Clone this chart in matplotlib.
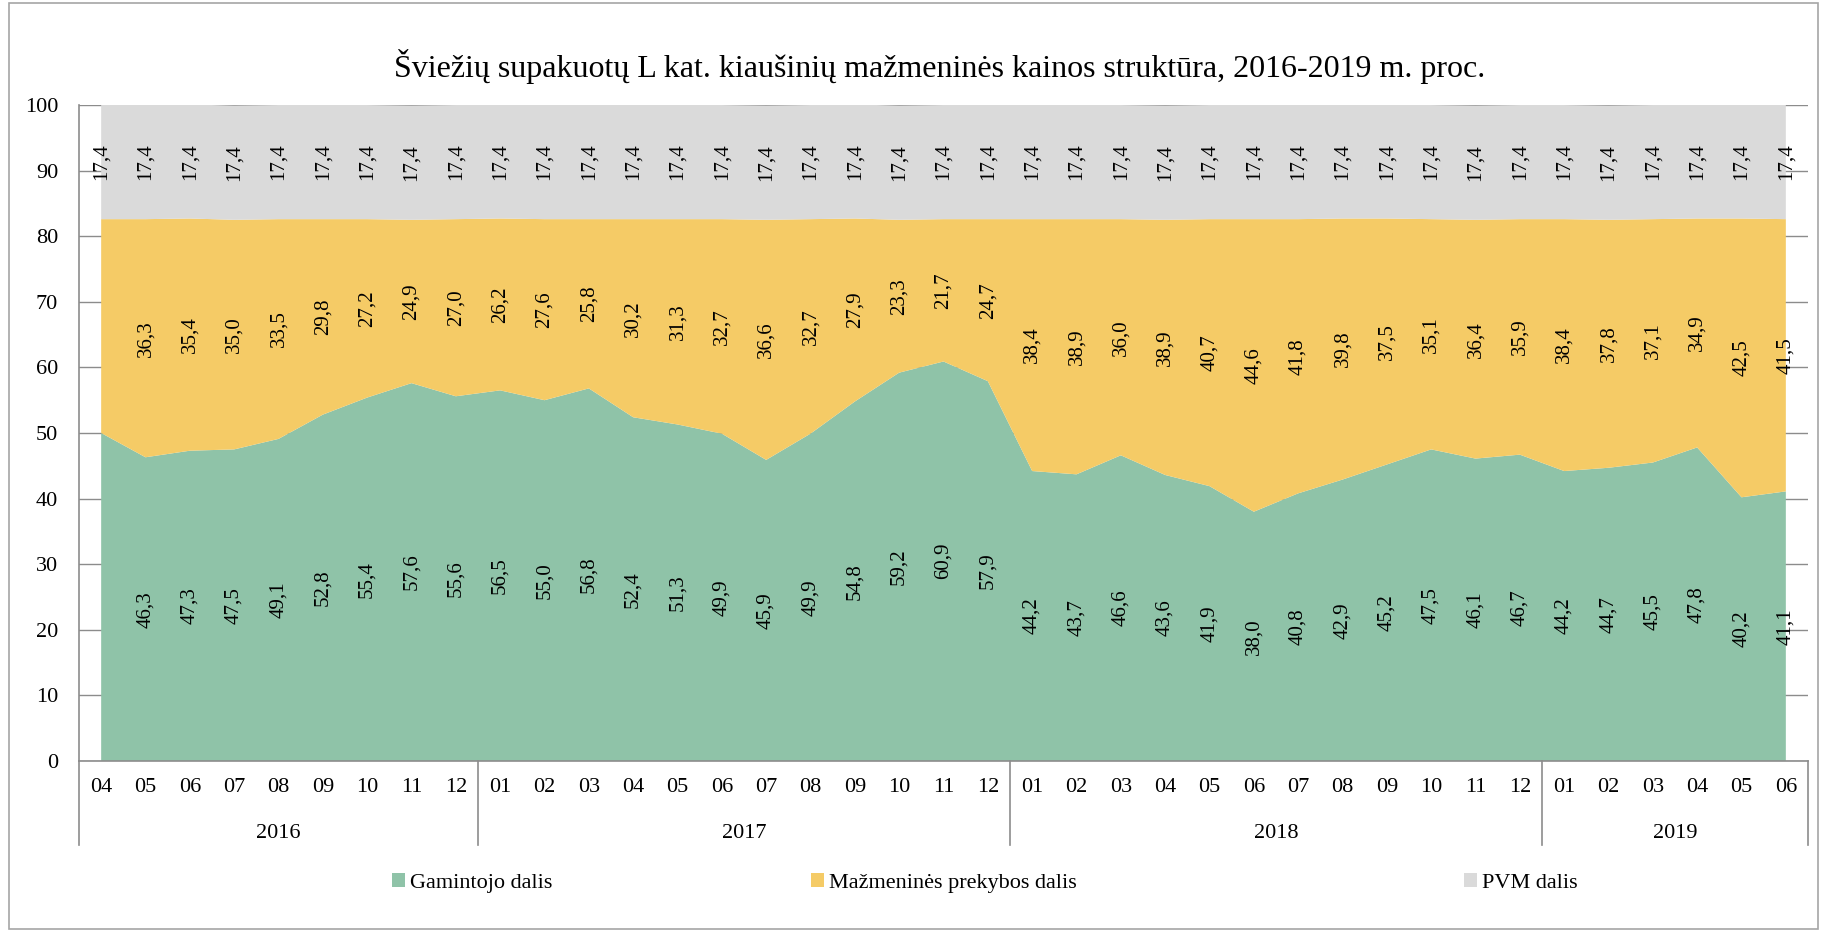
import numpy as np
import matplotlib
matplotlib.use("Agg")
import matplotlib.pyplot as plt
from matplotlib.patches import Rectangle
from matplotlib.transforms import blended_transform_factory

plt.rcParams["font.family"] = ["Liberation Serif", "DejaVu Serif"]

# 2016-04 .. 2019-06
months = ["04", "05", "06", "07", "08", "09", "10", "11", "12",
          "01", "02", "03", "04", "05", "06", "07", "08", "09", "10", "11", "12",
          "01", "02", "03", "04", "05", "06", "07", "08", "09", "10", "11", "12",
          "01", "02", "03", "04", "05", "06"]
years = ["2016", "2017", "2018", "2019"]
year_sizes = [9, 12, 12, 6]

producer = [50.0, 46.3, 47.3, 47.5, 49.1, 52.8, 55.4, 57.6, 55.6,
            56.5, 55.0, 56.8, 52.4, 51.3, 49.9, 45.9, 49.9, 54.8, 59.2, 60.9, 57.9,
            44.2, 43.7, 46.6, 43.6, 41.9, 38.0, 40.8, 42.9, 45.2, 47.5, 46.1, 46.7,
            44.2, 44.7, 45.5, 47.8, 40.2, 41.1]
retail = [32.6, 36.3, 35.4, 35.0, 33.5, 29.8, 27.2, 24.9, 27.0,
          26.2, 27.6, 25.8, 30.2, 31.3, 32.7, 36.6, 32.7, 27.9, 23.3, 21.7, 24.7,
          38.4, 38.9, 36.0, 38.9, 40.7, 44.6, 41.8, 39.8, 37.5, 35.1, 36.4, 35.9,
          38.4, 37.8, 37.1, 34.9, 42.5, 41.5]
vat = [17.4] * len(months)

series_names = ["Gamintojo dalis", "Mažmeninės prekybos dalis", "PVM dalis"]
colors = ["#8FC3A8", "#F5CB66", "#DADADA"]
axis_grey = "#8C8C8C"

fig = plt.figure(figsize=(18.23, 9.31), dpi=100)
ax = fig.add_axes([79 / 1823, 1 - 761 / 931, (1808 - 79) / 1823, (761 - 105) / 931])

x = np.arange(len(months))
polys = ax.stackplot(x, producer, retail, vat, colors=colors, zorder=2)

ax.set_xlim(-0.5, len(months) - 0.5)
ax.set_ylim(0, 100)
ax.set_yticks(np.arange(0, 101, 10))
ax.yaxis.grid(True, color=axis_grey, linewidth=1.0, zorder=1)
ax.set_axisbelow(True)

for side in ["top", "right"]:
    ax.spines[side].set_visible(False)
for side in ["left", "bottom"]:
    ax.spines[side].set_color(axis_grey)
    ax.spines[side].set_linewidth(1.2)
    ax.spines[side].set_zorder(3)

ax.tick_params(axis="y", length=0, pad=15, labelsize=16)
ax.set_xticks(x)
ax.set_xticklabels(months)
ax.tick_params(axis="x", length=0, pad=12, labelsize=16)

# data labels, centred in each band
fmt = lambda v: f"{v:.1f}".replace(".", ",")
base = np.zeros(len(months))
for k, vals in enumerate([producer, retail, vat]):
    vals = np.asarray(vals)
    for i, v in enumerate(vals):
        if k < 2 and i == 0:
            continue  # first point has no label in the original
        ax.text(i, base[i] + v / 2, fmt(v), rotation=90, ha="center", va="center",
                fontsize=15, zorder=4)
    base += vals

# year groups under the month labels
trans = blended_transform_factory(ax.transData, ax.transAxes)
edges = np.concatenate([[0], np.cumsum(year_sizes)]) - 0.5
for e in edges:
    ax.plot([e, e], [0, -0.128], transform=trans, color=axis_grey, linewidth=1.2,
            clip_on=False)
for yr, lo, hi in zip(years, edges[:-1], edges[1:]):
    ax.text((lo + hi) / 2, -0.111, yr, transform=trans, ha="center", va="center",
            fontsize=16)

fig.text(940 / 1823, 1 - 66 / 931,
         "Šviežių supakuotų L kat. kiaušinių mažmeninės kainos struktūra, 2016-2019 m. proc.",
         ha="center", va="center", fontsize=23)

# legend entries placed individually to match the uneven spacing
leg_x = [392, 811, 1464]
for poly, name, lx in zip(polys, series_names, leg_x):
    leg = fig.legend([poly], [name], loc="center left",
                     bbox_to_anchor=(lx / 1823, 1 - 883 / 931), frameon=False,
                     fontsize=16, handlelength=0.6, handleheight=0.6,
                     handletextpad=0.2, borderpad=0, borderaxespad=0)

fig.patches.append(Rectangle((9 / 1823, 2 / 931), 1809 / 1823, 926 / 931,
                             transform=fig.transFigure, fill=False,
                             edgecolor="#A6A6A6", linewidth=1.2))

fig.savefig("out.png", dpi=100)
